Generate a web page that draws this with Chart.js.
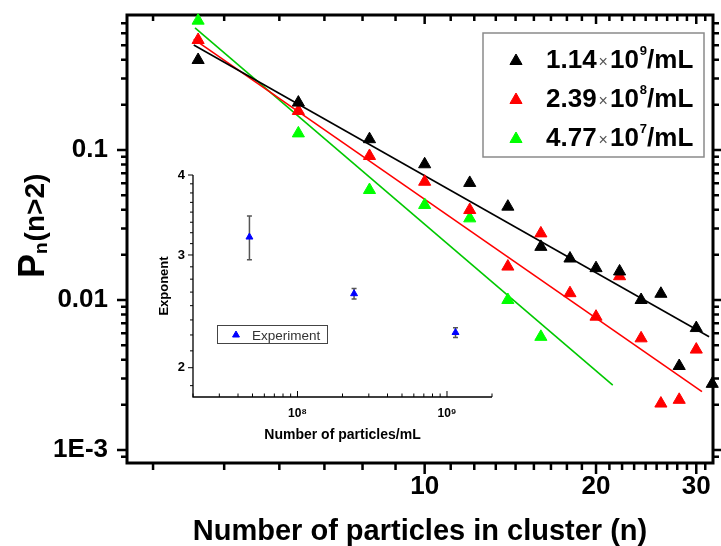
<!DOCTYPE html>
<html>
<head>
<meta charset="utf-8">
<title>P_n(n>2) vs tamaño de cluster</title>
<script src="https://cdn.jsdelivr.net/npm/chart.js@4.4.0/dist/chart.umd.min.js"></script>
<style>
  html, body { margin: 0; padding: 0; background: #fff; }
  #wrap { position: relative; width: 721px; height: 546px; }
  #wrap canvas { position: absolute; left: 0; top: 0; }
</style>
</head>
<body>
<div id="wrap">
  <canvas id="mainChart" width="721" height="546"></canvas>
  <canvas id="insetChart" width="721" height="546"></canvas>
</div>
<script>
// Datos
const clusterSize = [4, 6, 8, 10, 12, 14, 16, 18, 20, 22, 24, 26, 28, 30, 32];
const probHigh = [0.398, 0.207, 0.118, 0.0803, 0.0603, 0.0419, 0.0226, 0.0189, 0.0163, 0.0155, 0.0100, 0.0110, 0.00363, 0.00650, 0.00276];
const probMid = [0.541, 0.182, 0.0912, 0.0614, 0.0398, 0.0167, 0.0278, 0.0111, 0.00774, 0.0144, 0.00555, 0.00204, 0.00216, 0.00467];
const probLow = [0.728, 0.129, 0.0541, 0.0430, 0.0350, 0.0100, 0.00568];

// rectas de ajuste (extremos)
const fitHighN = [3.93, 31.6];
const fitHighP = [0.501, 0.00569];
const fitMidN = [3.93, 30.7];
const fitMidP = [0.549, 0.00245];
const fitLowN = [3.95, 21.4];
const fitLowP = [0.651, 0.00271];

const seriesMantissa = ['1.14', '2.39', '4.77'];
const seriesPower = ['9', '8', '7'];
const seriesColors = ['#000000', '#ff0000', '#00ff00'];
const lineColors = ['#000000', '#ff0000', '#00c800'];

const xTickMajors = [10, 20, 30];
const xTickLabels = ['10', '20', '30'];
const yTickMajors = [0.1, 0.01, 0.001];
const yTickLabels = ['0.1', '0.01', '1E-3'];

// inset
const concentration = [4.77e7, 2.39e8, 1.14e9];
const exponent = [3.20, 2.61, 2.27];
const exponentErr = [0.25, 0.05, 0.04];
const insetXMajors = [1e8, 1e9];
const insetXLabels = ['10\u2078', '10\u2079'];
const insetYMajors = [2, 3, 4];
const insetYLabels = ['2', '3', '4'];

const FONT = '"Liberation Sans", Arial, sans-serif';
Chart.defaults.font.family = FONT;
Chart.defaults.color = '#000';

// posiciones de las marcas de eje
const xTickValues = [];
for (let k = 3; k <= 28; k++) xTickValues.push(k % 9 === 0 ? k / 9 * 10 : k * 10 / 9);
const yTickValues = [];
for (let e = -4; e <= -1; e++) {
    for (let m = 1; m <= 9; m++) {
        const v = m * Math.pow(10, e);
        if (v >= 0.00082 && v <= 0.79) yTickValues.push(v);
    }
}
const insetXTicks = [];
for (let e = 7; e <= 9; e++) {
    for (let m = 1; m <= 9; m++) {
        const v = m * Math.pow(10, e);
        if (v >= 2e7 && v <= 2e9) insetXTicks.push(v);
    }
}
const insetYTicks = [];
for (let i = 0; i <= 17; i++) insetYTicks.push(1.875 + i * 0.125);

function isMajor(v, majors) {
    return majors.some(m => Math.abs(m - v) / m < 1e-6);
}
function labelFor(v, majors, labels) {
    const i = majors.findIndex(m => Math.abs(m - v) / m < 1e-6);
    return i >= 0 ? labels[i] : null;
}
const pts = (xs, ys) => ys.map((v, i) => ({ x: xs[i], y: v }));

// fija el tamaño del eje y quita el relleno extra de las etiquetas
function fixSize(size, horizontal) {
    return s => {
        if (horizontal) s.height = size; else s.width = size;
        s.paddingTop = 0;
        s.paddingBottom = 0;
        s.paddingLeft = 0;
        s.paddingRight = 0;
    };
}

function tri(ctx, color, r, x, y) {
    ctx.fillStyle = color;
    ctx.strokeStyle = color;
    ctx.lineWidth = 1;
    Chart.helpers.drawPoint(ctx, { pointStyle: 'triangle', radius: r, borderWidth: 1, rotation: 0 }, x, y);
}

// marco, marcas y leyenda del grafico principal
const mainDecor = {
    id: 'mainDecor',
    beforeDatasetsDraw(chart) {
        const { ctx, chartArea: a, scales: { x, y } } = chart;
        ctx.save();
        ctx.strokeStyle = '#000';
        ctx.lineWidth = 2.5;
        ctx.beginPath();
        xTickValues.forEach(v => {
            const px = x.getPixelForValue(v);
            const major = isMajor(v, xTickMajors);
            ctx.moveTo(px, a.bottom);
            ctx.lineTo(px, a.bottom + (major ? 11 : 7));
            ctx.moveTo(px, a.top);
            ctx.lineTo(px, a.top + (major ? 9 : 6));
        });
        yTickValues.forEach(v => {
            const py = y.getPixelForValue(v);
            const major = isMajor(v, yTickMajors);
            ctx.moveTo(a.left, py);
            ctx.lineTo(a.left - (major ? 10 : 6), py);
            ctx.moveTo(a.right, py);
            ctx.lineTo(a.right + (major ? 9 : 6), py);
        });
        ctx.stroke();
        ctx.lineWidth = 3;
        ctx.strokeRect(a.left, a.top, a.right - a.left, a.bottom - a.top);
        ctx.restore();
    },
    afterDraw(chart) {
        const { ctx, chartArea: a } = chart;
        ctx.save();
        // titulo eje y
        ctx.translate(44, 278);
        ctx.rotate(-Math.PI / 2);
        ctx.fillStyle = '#000';
        ctx.textBaseline = 'alphabetic';
        ctx.textAlign = 'left';
        ctx.font = 'bold 36px ' + FONT;
        ctx.fillText('P', 0, 0);
        let tx = ctx.measureText('P').width;
        ctx.font = 'bold 19px ' + FONT;
        ctx.fillText('n', tx, 3);
        tx += ctx.measureText('n').width + 1;
        ctx.font = 'bold 28px ' + FONT;
        ctx.fillText('(n>2)', tx, 0);
        ctx.restore();

        // leyenda
        ctx.save();
        const bx = a.right - 230, by = a.top + 18;
        ctx.strokeStyle = '#8a8a8a';
        ctx.lineWidth = 1.5;
        ctx.strokeRect(bx, by, 221, 124);
        seriesMantissa.forEach((m, i) => {
            const cy = by + 28 + i * 39;
            tri(ctx, seriesColors[i], 7, bx + 33, cy);
            const base = cy + 7;
            let x = bx + 63;
            ctx.textBaseline = 'alphabetic';
            ctx.textAlign = 'left';
            ctx.fillStyle = '#000';
            ctx.font = 'bold 26px ' + FONT;
            ctx.fillText(m, x, base);
            x += ctx.measureText(m).width + 2;
            ctx.font = '16px ' + FONT;
            ctx.fillStyle = '#555';
            ctx.fillText('\u00d7', x, base - 1);
            x += ctx.measureText('\u00d7').width + 2;
            ctx.fillStyle = '#000';
            ctx.font = 'bold 26px ' + FONT;
            ctx.fillText('10', x, base);
            x += ctx.measureText('10').width + 1;
            ctx.font = 'bold 13px ' + FONT;
            ctx.fillText(seriesPower[i], x, base - 13);
            x += ctx.measureText(seriesPower[i]).width;
            ctx.font = 'bold 26px ' + FONT;
            ctx.fillText('/mL', x, base);
        });
        ctx.restore();
    }
};

const mainCtx = document.getElementById('mainChart').getContext('2d');
new Chart(mainCtx, {
    type: 'scatter',
    data: {
        datasets: [
            { label: '1.14x10^9/mL', data: pts(clusterSize, probHigh), showLine: false, pointStyle: 'triangle', pointRadius: 7, pointBorderWidth: 1, backgroundColor: seriesColors[0], borderColor: seriesColors[0], clip: false },
            { label: '2.39x10^8/mL', data: pts(clusterSize, probMid), showLine: false, pointStyle: 'triangle', pointRadius: 7, pointBorderWidth: 1, backgroundColor: seriesColors[1], borderColor: seriesColors[1], clip: false },
            { label: '4.77x10^7/mL', data: pts(clusterSize, probLow), showLine: false, pointStyle: 'triangle', pointRadius: 7, pointBorderWidth: 1, backgroundColor: seriesColors[2], borderColor: seriesColors[2], clip: false },
            { label: 'ajuste 1', data: pts(fitHighN, fitHighP), showLine: true, borderColor: lineColors[0], borderWidth: 1.6, pointRadius: 0 },
            { label: 'ajuste 2', data: pts(fitMidN, fitMidP), showLine: true, borderColor: lineColors[1], borderWidth: 1.6, pointRadius: 0 },
            { label: 'ajuste 3', data: pts(fitLowN, fitLowP), showLine: true, borderColor: lineColors[2], borderWidth: 1.6, pointRadius: 0 }
        ]
    },
    options: {
        responsive: false,
        animation: false,
        devicePixelRatio: 1,
        layout: { padding: { top: 15, right: 5, left: 0, bottom: 0 } },
        plugins: { legend: { display: false }, tooltip: { enabled: false } },
        scales: {
            x: {
                type: 'logarithmic',
                min: 3.0,
                max: 32.1,
                afterBuildTicks: s => { s.ticks = xTickValues.map(v => ({ value: v })); },
                afterFit: fixSize(83, true),
                grid: { display: false, drawTicks: false },
                border: { display: false },
                ticks: {
                    autoSkip: false, maxRotation: 0, minRotation: 0, padding: 8,
                    color: '#000', font: { size: 26, weight: 'bold' },
                    callback: v => labelFor(v, xTickMajors, xTickLabels)
                },
                title: {
                    display: true, text: 'Number of particles in cluster (n)', color: '#000',
                    font: { size: 29, weight: 'bold' }, padding: { top: 0, bottom: -3 }
                }
            },
            y: {
                type: 'logarithmic',
                min: 0.000819,
                max: 0.794,
                afterBuildTicks: s => { s.ticks = yTickValues.map(v => ({ value: v })); },
                afterFit: fixSize(127, false),
                grid: { display: false, drawTicks: false },
                border: { display: false },
                ticks: {
                    autoSkip: false, padding: 19,
                    color: '#000', font: { size: 26, weight: 'bold' },
                    callback: v => labelFor(v, yTickMajors, yTickLabels)
                }
            }
        }
    },
    plugins: [mainDecor]
});

// ejes, barras de error y leyenda del inset
const insetDecor = {
    id: 'insetDecor',
    beforeDatasetsDraw(chart) {
        const { ctx, chartArea: a, scales: { x, y } } = chart;
        ctx.save();
        ctx.strokeStyle = '#000';
        ctx.lineWidth = 1.3;
        ctx.beginPath();
        ctx.moveTo(a.left, a.top);
        ctx.lineTo(a.left, a.bottom);
        ctx.lineTo(a.right, a.bottom);
        ctx.stroke();
        ctx.lineWidth = 1;
        ctx.beginPath();
        insetXTicks.forEach(v => {
            const px = x.getPixelForValue(v);
            ctx.moveTo(px, a.bottom);
            ctx.lineTo(px, a.bottom - (isMajor(v, insetXMajors) ? 6 : 3.5));
        });
        insetYTicks.forEach(v => {
            const py = y.getPixelForValue(v);
            ctx.moveTo(a.left, py);
            ctx.lineTo(a.left - (isMajor(v, insetYMajors) ? 5 : 3), py);
        });
        ctx.stroke();

        // barras de error
        ctx.strokeStyle = '#555';
        ctx.lineWidth = 1.5;
        ctx.beginPath();
        concentration.forEach((c, i) => {
            const px = x.getPixelForValue(c);
            const t = y.getPixelForValue(exponent[i] + exponentErr[i]);
            const b = y.getPixelForValue(exponent[i] - exponentErr[i]);
            ctx.moveTo(px, t); ctx.lineTo(px, b);
            ctx.moveTo(px - 2.5, t); ctx.lineTo(px + 2.5, t);
            ctx.moveTo(px - 2.5, b); ctx.lineTo(px + 2.5, b);
        });
        ctx.stroke();
        ctx.restore();
    },
    afterDraw(chart) {
        const { ctx, chartArea: a } = chart;
        ctx.save();
        const lx = a.left + 24, ly = a.top + 150;
        ctx.strokeStyle = '#444';
        ctx.lineWidth = 1;
        ctx.strokeRect(lx + 0.5, ly + 0.5, 110, 18);
        tri(ctx, '#0000ff', 4, lx + 19, ly + 10);
        ctx.fillStyle = '#333';
        ctx.font = '13.5px ' + FONT;
        ctx.textBaseline = 'alphabetic';
        ctx.textAlign = 'left';
        ctx.fillText('Experiment', lx + 35, ly + 14.5);
        ctx.restore();
    }
};

const insetCtx = document.getElementById('insetChart').getContext('2d');
new Chart(insetCtx, {
    type: 'scatter',
    data: {
        datasets: [{
            label: 'Experiment',
            data: pts(concentration, exponent),
            pointStyle: 'triangle',
            pointRadius: 4,
            pointBorderWidth: 1,
            backgroundColor: '#0000ff',
            borderColor: '#0000ff',
            clip: false
        }]
    },
    options: {
        responsive: false,
        animation: false,
        devicePixelRatio: 1,
        layout: { padding: { left: 153, top: 175, right: 229, bottom: 99 } },
        plugins: { legend: { display: false }, tooltip: { enabled: false } },
        scales: {
            x: {
                type: 'logarithmic',
                min: 2e7,
                max: 2e9,
                afterBuildTicks: s => { s.ticks = insetXTicks.map(v => ({ value: v })); },
                afterFit: fixSize(50, true),
                grid: { display: false, drawTicks: false },
                border: { display: false },
                ticks: {
                    autoSkip: false, maxRotation: 0, minRotation: 0, padding: 9,
                    color: '#000', font: { size: 12, weight: 'bold' },
                    callback: v => labelFor(v, insetXMajors, insetXLabels)
                },
                title: {
                    display: true, text: 'Number of particles/mL', color: '#000',
                    font: { size: 14, weight: 'bold' }, padding: { top: 0, bottom: 3 }
                }
            },
            y: {
                type: 'logarithmic',
                min: 1.8,
                max: 4,
                afterBuildTicks: s => { s.ticks = insetYTicks.map(v => ({ value: v })); },
                afterFit: fixSize(40, false),
                grid: { display: false, drawTicks: false },
                border: { display: false },
                ticks: {
                    autoSkip: false, padding: 8,
                    color: '#000', font: { size: 13, weight: 'bold' },
                    callback: v => labelFor(v, insetYMajors, insetYLabels)
                },
                title: {
                    display: true, text: 'Exponent', color: '#000',
                    font: { size: 13, weight: 'bold' }, padding: { top: 4, bottom: 0 }
                }
            }
        }
    },
    plugins: [insetDecor]
});
</script>
</body>
</html>
